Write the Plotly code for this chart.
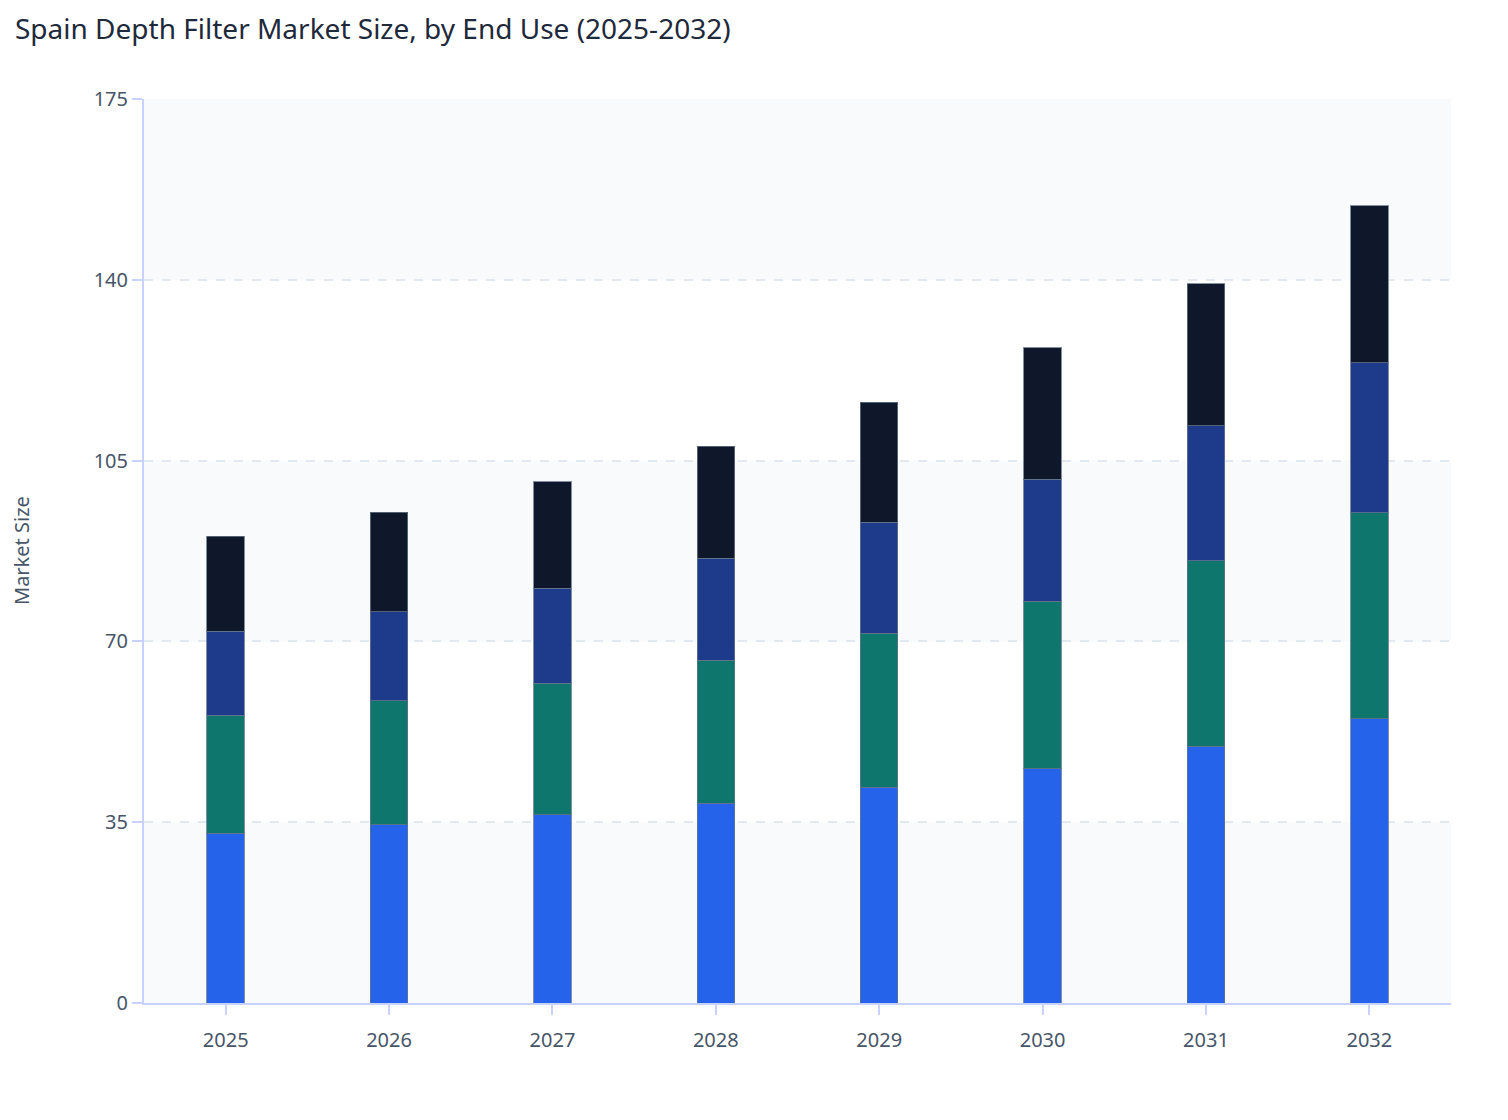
import plotly.graph_objects as go

# Spain depth filter market size by end use
years = ["2025", "2026", "2027", "2028", "2029", "2030", "2031", "2032"]
segment_1 = [32.9, 34.5, 36.4, 38.7, 41.8, 45.3, 49.7, 55.0]
segment_2 = [22.8, 24.0, 25.5, 27.7, 29.8, 32.5, 35.9, 39.9]
segment_3 = [16.3, 17.2, 18.4, 19.7, 21.5, 23.6, 26.1, 29.0]
segment_4 = [18.4, 19.3, 20.6, 21.7, 23.2, 25.4, 27.5, 30.4]
series_names = ["Segment 1", "Segment 2", "Segment 3", "Segment 4"]
y_ticks = [0, 35, 70, 105, 140, 175]

colors = ["#2563eb", "#0f766e", "#1e3a8a", "#0f172a"]
font_family = "Noto Sans, Open Sans, sans-serif"

fig = go.Figure()
for name, values, color in zip(series_names, [segment_1, segment_2, segment_3, segment_4], colors):
    fig.add_trace(go.Bar(
        x=years,
        y=values,
        name=name,
        marker=dict(color=color, line=dict(color="rgba(100,116,139,0.8)", width=1)),
        width=0.23,
    ))

# alternating shaded bands behind the bars
for i in range(0, len(y_ticks) - 1, 2):
    fig.add_shape(
        type="rect", xref="paper", yref="y",
        x0=0, x1=1, y0=y_ticks[i], y1=y_ticks[i + 1],
        fillcolor="#f8fafc", line_width=0, layer="below",
    )

# title and y-axis title as annotations so they sit where the reference has them
fig.add_annotation(
    text="Spain Depth Filter Market Size, by End Use (2025-2032)",
    xref="paper", yref="paper", x=0, y=1,
    xanchor="left", yanchor="middle",
    xshift=-131, yshift=71,
    showarrow=False,
    font=dict(size=28, color="#1e293b", family=font_family),
)
fig.add_annotation(
    text="Market Size",
    xref="paper", yref="paper", x=0, y=0.5,
    xanchor="center", yanchor="middle",
    xshift=-123, textangle=-90,
    showarrow=False,
    font=dict(size=20, color="#475569", family=font_family),
)

# the page body adds an 8px margin, so the figure is 8px smaller than the window
fig.update_layout(
    barmode="stack",
    showlegend=False,
    width=1500,
    height=1112,
    paper_bgcolor="white",
    plot_bgcolor="white",
    margin=dict(l=136, r=57, t=91, b=117, autoexpand=False),
    font=dict(family=font_family, color="#475569", size=20),
)

fig.update_xaxes(
    type="category",
    showline=True, linecolor="#c7d2fe", linewidth=2,
    ticks="outside", tickcolor="#c7d2fe", ticklen=10, tickwidth=2,
    ticklabelstandoff=8,
    showgrid=False,
    automargin=False,
    tickfont=dict(size=20, color="#475569"),
)
fig.update_yaxes(
    range=[0, 175],
    tickvals=y_ticks,
    showline=True, linecolor="#c7d2fe", linewidth=2,
    ticks="outside", tickcolor="#c7d2fe", ticklen=10, tickwidth=2,
    showgrid=True, gridcolor="#e2e8f0", griddash="dash", gridwidth=1.5,
    zeroline=False,
    automargin=False,
    tickfont=dict(size=20, color="#475569"),
)

fig.write_html("out.html")
